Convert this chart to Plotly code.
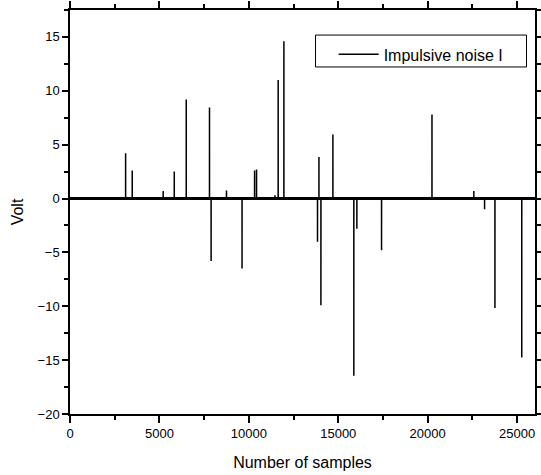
import plotly.graph_objects as go

# Impulse positions (sample index) and amplitudes (V)
spike_samples = [3110, 3480, 5210, 5830, 6500, 7800, 7890, 8750, 9620,
                 10320, 10430, 11460, 11640, 11960, 13840, 13920, 14030,
                 14700, 15870, 16040, 17420, 20240, 22580, 23180, 23760, 25260]
spike_volts = [4.2, 2.6, 0.7, 2.5, 9.2, 8.45, -5.8, 0.75, -6.5,
               2.6, 2.7, 0.3, 11.0, 14.6, -4.0, 3.85, -9.9,
               5.95, -16.45, -2.8, -4.8, 7.8, 0.7, -1.0, -10.15, -14.75]
n_samples = 26000

x_ticks = [0, 5000, 10000, 15000, 20000, 25000]
x_ticklabels = ["0", "5000", "10000", "15000", "20000", "25000"]
y_ticks = [-20, -15, -10, -5, 0, 5, 10, 15]

# Build the sampled signal: zero everywhere except at the impulses
xs, ys = [0], [0.0]
for s, v in zip(spike_samples, spike_volts):
    xs += [s - 1, s, s + 1]
    ys += [0.0, v, 0.0]
xs.append(n_samples)
ys.append(0.0)

FONT = "Liberation Sans, Arial, sans-serif"

fig = go.Figure()
fig.add_trace(go.Scatter(x=xs, y=ys, mode="lines", name="Impulsive noise I",
                         line=dict(color="black", width=1.5)))

fig.update_layout(
    width=541, height=475,
    margin=dict(l=70, r=6, t=10, b=61, autoexpand=False),
    paper_bgcolor="white", plot_bgcolor="white",
    font=dict(family=FONT, size=13, color="black"),
    xaxis=dict(range=[0, n_samples], tickmode="array", tickvals=x_ticks,
               ticktext=x_ticklabels, mirror="allticks", automargin=False,
               ticks="outside", ticklen=7, tickwidth=1.5, tickcolor="black",
               minor=dict(dtick=2500, ticks="outside", ticklen=4, tickwidth=1.5,
                          tickcolor="black"),
               showline=True, linecolor="black", linewidth=1.5,
               showgrid=False, zeroline=False,
               title=dict(text="Number of samples", font=dict(size=16), standoff=16)),
    yaxis=dict(range=[-20, 17.5], tickmode="array", tickvals=y_ticks,
               mirror="allticks", automargin=False,
               ticks="outside", ticklen=6, tickwidth=1.5, tickcolor="black",
               minor=dict(dtick=2.5, ticks="outside", ticklen=4, tickwidth=1.5,
                          tickcolor="black"),
               showline=True, linecolor="black", linewidth=1.5,
               showgrid=False, zeroline=True, zerolinecolor="black", zerolinewidth=3,
               title=dict(text="Volt", font=dict(size=16), standoff=10)),
    showlegend=True,
    legend=dict(x=0.567, y=0.932, xanchor="left", yanchor="top",
                bgcolor="rgba(0,0,0,0)", borderwidth=0,
                font=dict(size=16), itemwidth=40),
    shapes=[dict(type="rect", xref="paper", yref="paper",
                 x0=0.528, x1=0.9817, y0=0.859, y1=0.938,
                 line=dict(color="black", width=1), fillcolor="white",
                 layer="below")],
)

fig.write_html("out.html")
